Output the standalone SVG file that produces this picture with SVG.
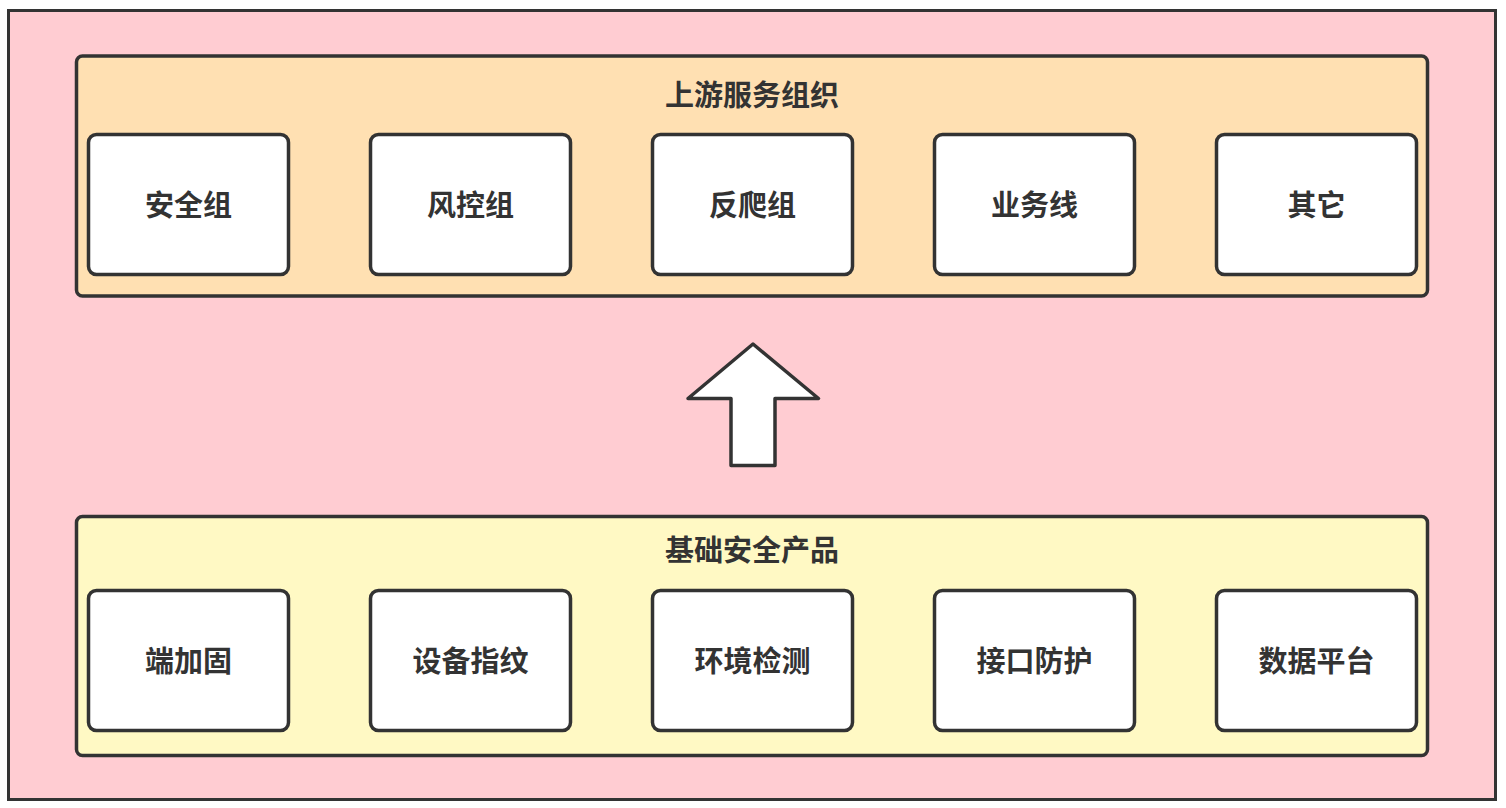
<svg xmlns="http://www.w3.org/2000/svg" width="1506" height="808" viewBox="0 0 1506 808">
<style>
.frame{fill:#ffccd2;stroke:#333;stroke-width:3}
.grp{stroke:#333;stroke-width:3.5}
.box{fill:#fff;stroke:#333;stroke-width:3.5}
.t{font-family:"Noto Sans CJK SC","Noto Sans",sans-serif;font-size:29px;font-weight:bold;fill:#333;text-anchor:middle;dominant-baseline:central}
</style>
<rect width="1506" height="808" fill="#fff"/>
<rect class="frame" x="8.5" y="10.5" width="1487" height="789"/>
<g id="upstream">
<rect class="grp" x="76.5" y="56" width="1351" height="240" rx="6" fill="#ffe0b2"/>
<text class="t" x="752" y="93">上游服务组织</text>
</g>
<g id="n-anquanzu"><rect class="box" x="88.5" y="134.5" width="200" height="140" rx="8"/><text class="t" x="188.5" y="203">安全组</text></g>
<g id="n-fengkongzu"><rect class="box" x="370.5" y="134.5" width="200" height="140" rx="8"/><text class="t" x="470.5" y="203">风控组</text></g>
<g id="n-fanpazu"><rect class="box" x="652.5" y="134.5" width="200" height="140" rx="8"/><text class="t" x="752.5" y="203">反爬组</text></g>
<g id="n-yewuxian"><rect class="box" x="934.5" y="134.5" width="200" height="140" rx="8"/><text class="t" x="1034.5" y="203">业务线</text></g>
<g id="n-qita"><rect class="box" x="1216.5" y="134.5" width="200" height="140" rx="8"/><text class="t" x="1316.5" y="203">其它</text></g>
<g id="base">
<rect class="grp" x="76.5" y="516.5" width="1351" height="239" rx="6" fill="#fff9c4"/>
<text class="t" x="752" y="548">基础安全产品</text>
</g>
<g id="n-duanjiagu"><rect class="box" x="88.5" y="590.5" width="200" height="140" rx="8"/><text class="t" x="188.5" y="659">端加固</text></g>
<g id="n-shebeizhiwen"><rect class="box" x="370.5" y="590.5" width="200" height="140" rx="8"/><text class="t" x="470.5" y="659">设备指纹</text></g>
<g id="n-huanjingjiance"><rect class="box" x="652.5" y="590.5" width="200" height="140" rx="8"/><text class="t" x="752.5" y="659">环境检测</text></g>
<g id="n-jiekoufanghu"><rect class="box" x="934.5" y="590.5" width="200" height="140" rx="8"/><text class="t" x="1034.5" y="659">接口防护</text></g>
<g id="n-shujupingtai"><rect class="box" x="1216.5" y="590.5" width="200" height="140" rx="8"/><text class="t" x="1316.5" y="659">数据平台</text></g>
<g id="connectors">
<polygon points="753,344 818.5,398.5 775,398.5 775,465.5 731,465.5 731,398.5 688,398.5" fill="#fff" stroke="#333" stroke-width="3.5" stroke-linejoin="round"/>
</g>
</svg>
